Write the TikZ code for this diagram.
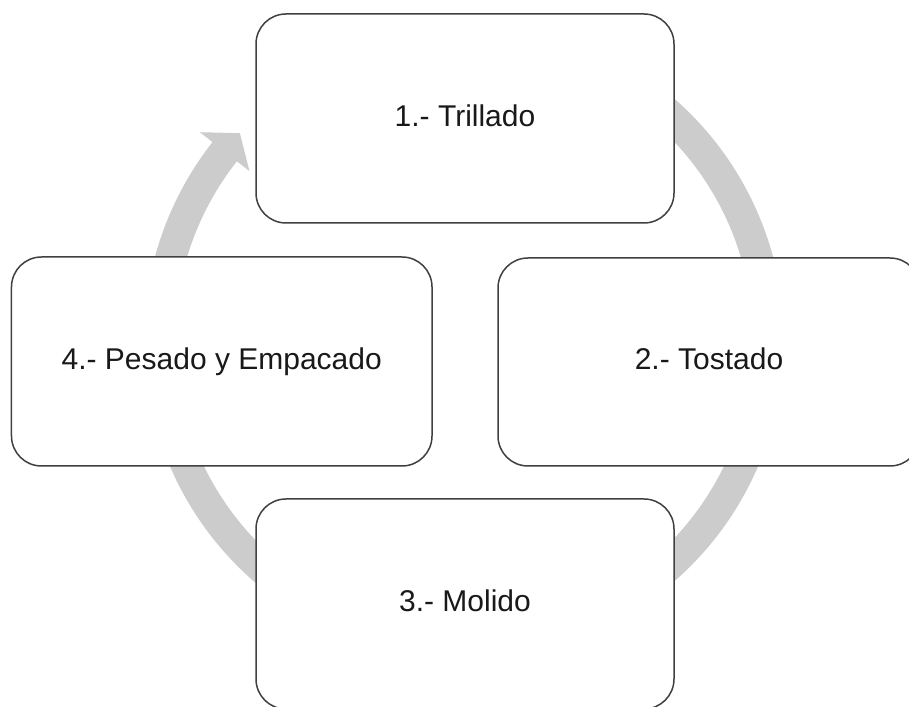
\documentclass[tikz,border=0pt]{standalone}
\usepackage{fontspec}
\setmainfont{Liberation Sans}
\usetikzlibrary{calc}
\definecolor{arcgray}{HTML}{CCCCCC}
\definecolor{boxline}{HTML}{404040}
\tikzset{
  stagebox/.style={draw=boxline, line width=1.5bp, fill=white, rectangle,
    rounded corners=30bp, inner sep=0pt, text height=22bp, text depth=6bp,
    font=\fontsize{30bp}{36bp}\selectfont, text=black!90},
  cyclearrow/.style={fill=arcgray, draw=none}
}
\begin{document}
\begin{tikzpicture}[x=1bp,y=1bp]
\useasboundingbox (0,0) rectangle (909,707);
\clip (0,0) rectangle (909,707);
\fill[white] (0,0) rectangle (909,707);
\coordinate (C) at (464,367);
% circular arrow
\fill[cyclearrow] ($(C)+(70:320bp)$) arc[start angle=70, end angle=-218.2, radius=320bp]
  -- ($(C)+(-218.2:336bp)$) -- ($(C)+(-222.7:305bp)$) -- ($(C)+(-218.2:273bp)$)
  -- ($(C)+(-218.2:289bp)$) arc[start angle=-218.2, end angle=70, radius=289bp] -- cycle;
% stages
\node[stagebox, minimum width=418bp, minimum height=209bp] (b1) at (465,588.5) {1.- Trillado};
\node[stagebox, minimum width=422bp, minimum height=208bp] (b2) at (709,345) {2.- Tostado};
\node[stagebox, minimum width=418bp, minimum height=210bp] (b3) at (465,103) {3.- Molido};
\node[stagebox, minimum width=420.5bp, minimum height=209bp] (b4) at (221.75,345.5) {4.- Pesado y Empacado};
\end{tikzpicture}
\end{document}
